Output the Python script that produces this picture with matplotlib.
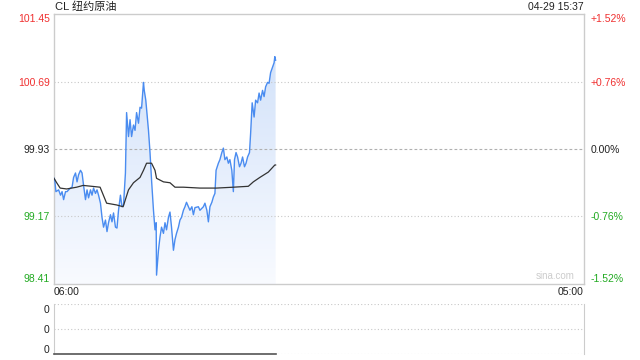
import matplotlib
matplotlib.use("Agg")
import matplotlib.pyplot as plt
import numpy as np
from matplotlib.colors import LinearSegmentedColormap

plt.rcParams['font.family'] = ['Liberation Sans', 'Noto Sans CJK SC', 'DejaVu Sans']

title = "CL 纽约原油"
timestamp = "04-29 15:37"
x_labels = ["06:00", "05:00"]
total_minutes = 1380  # 06:00 -> 05:00 next day

price_min = [0, 2, 5, 12, 17, 21, 25, 30, 34, 38, 43, 47, 51, 56, 60, 64, 69, 73, 77, 82, 86, 90,
             95, 99, 103, 108, 112, 116, 121, 125, 129, 134, 138, 142, 147, 151, 155, 160, 164,
             168, 173, 177, 181, 186,
             189, 194, 198, 202, 207, 211, 215, 220, 224, 228, 233, 235, 239, 242, 246, 250, 254,
             259, 263, 266, 267, 272, 276, 280, 285, 289, 293, 298, 302, 306, 311, 315, 319, 324,
             328, 332, 337, 341, 345, 350, 354, 359, 363, 367, 376,
             380, 389, 393, 398, 402, 406, 411, 415, 419, 422, 428, 432, 437, 441, 445, 450, 454,
             458, 463, 467, 470, 474, 478, 483, 487, 491, 496, 500, 504, 509, 512, 516, 521, 525,
             530, 534, 538, 543, 547, 551, 556, 560, 564, 569, 573, 575, 577]
price_val = [99.60, 99.58, 99.45, 99.47, 99.41, 99.45, 99.36, 99.45, 99.45, 99.47, 99.49, 99.50,
             99.61, 99.66, 99.56, 99.64, 99.69, 99.66, 99.52, 99.36, 99.47, 99.38, 99.47, 99.41,
             99.49, 99.43, 99.47, 99.41, 99.32, 99.16, 99.05, 99.13, 99.00, 99.10, 99.19, 99.11,
             99.21, 99.05, 99.04, 99.24, 99.41, 99.28, 99.30, 99.66,
             100.34, 100.07, 100.26, 100.07, 100.20, 100.14, 100.34, 100.22, 100.40, 100.39,
             100.68, 100.59, 100.48, 100.34, 100.14, 99.89, 99.58, 99.24, 99.02, 99.10, 98.51,
             98.79, 98.94, 99.05, 98.98, 99.10, 99.02, 99.16, 99.22, 99.05, 98.79, 98.91, 98.98,
             99.05, 99.13, 99.16, 99.24, 99.28, 99.33, 99.28, 99.24, 99.28, 99.19, 99.27, 99.28,
             99.24, 99.28, 99.32, 99.24, 99.11, 99.28, 99.33, 99.39, 99.43, 99.69, 99.77, 99.81,
             99.89, 99.94, 99.81, 99.84, 99.77, 99.81, 99.69, 99.45, 99.81, 99.89, 99.84, 99.73,
             99.77, 99.84, 99.73, 99.77, 99.84, 99.89, 100.11, 100.45, 100.29, 100.48, 100.45,
             100.56, 100.48, 100.59, 100.52, 100.63, 100.68, 100.67, 100.79, 100.85, 100.90,
             100.97, 100.93]

avg_min = [0, 7, 16, 33, 59, 76, 120, 137, 163, 180, 194, 207, 224, 233, 241, 254, 263, 267,
           285, 302, 315, 337, 380, 423, 467, 506, 519, 536, 558, 575, 577]
avg_val = [99.60, 99.55, 99.49, 99.48, 99.50, 99.52, 99.50, 99.32, 99.30, 99.28, 99.47, 99.55,
           99.61, 99.69, 99.77, 99.77, 99.69, 99.60, 99.56, 99.55, 99.50, 99.50, 99.49, 99.49,
           99.50, 99.51, 99.56, 99.61, 99.67, 99.75, 99.75]

y_ticks = [98.41, 99.17, 99.93, 100.69, 101.45]
y_tick_labels = ["98.41", "99.17", "99.93", "100.69", "101.45"]
pct_labels = ["-1.52%", "-0.76%", "0.00%", "+0.76%", "+1.52%"]
vol_min = price_min
vol_val = [0] * len(price_min)
vol_tick_labels = ["0", "0", "0"]

RED = "#f03030"
GREEN = "#22aa22"
BLACK = "#222222"
tick_colors = [GREEN, GREEN, BLACK, RED, RED]
border = "#cccccc"

fig = plt.figure(figsize=(6.4, 3.6), dpi=100)
L, R = 54 / 640, 584 / 640
ax = fig.add_axes([L, 1 - 284 / 360, R - L, (284 - 14) / 360])
ax2 = fig.add_axes([L, 1 - 354 / 360, R - L, (354 - 304) / 360])

ax.set_xlim(0, total_minutes)
ax.set_ylim(y_ticks[0], y_ticks[-1])

# gradient fill under price
x = np.array(price_min, dtype=float)
y = np.array(price_val)
cmap = LinearSegmentedColormap.from_list("g", [(0.975, 0.983, 1.0), (0.80, 0.87, 0.975)])
grad = np.linspace(0, 1, 256).reshape(-1, 1)
im = ax.imshow(grad, aspect="auto", cmap=cmap, origin="lower",
               extent=[0, total_minutes, y_ticks[0], y_ticks[-1]], zorder=1)
poly = ax.fill_between(x, y, y_ticks[0], facecolor="none", edgecolor="none")
clip = poly.get_paths()[0]
im.set_clip_path(clip, transform=ax.transData)

# gridlines
for v in [y_ticks[1], y_ticks[3]]:
    ax.axhline(v, color="#c8c8c8", lw=0.8, ls=(0, (1, 2)), zorder=2)
ax.axhline(y_ticks[2], color="#b0b0b0", lw=0.8, ls=(0, (2.5, 2)), zorder=2)

ax.plot(x, y, color="#4a8cf0", lw=1.0, zorder=4)
ax.plot(avg_min, avg_val, color="#333333", lw=0.9, zorder=5)

for s in ax.spines.values():
    s.set_color(border)
    s.set_linewidth(1)
ax.set_xticks([])
ax.set_yticks(y_ticks)
ax.set_yticklabels(y_tick_labels, fontsize=7.5)
ax.tick_params(axis="y", length=0, pad=3)
for lbl, c in zip(ax.get_yticklabels(), tick_colors):
    lbl.set_color(c)
ax.get_yticklabels()[0].set_va("bottom")
ax.get_yticklabels()[-1].set_va("top")

axr = ax.twinx()
axr.set_ylim(ax.get_ylim())
axr.set_yticks(y_ticks)
axr.set_yticklabels(pct_labels, fontsize=7.5)
axr.tick_params(axis="y", length=0, pad=4.5)
for lbl, c in zip(axr.get_yticklabels(), tick_colors):
    lbl.set_color(c)
axr.get_yticklabels()[0].set_va("bottom")
axr.get_yticklabels()[-1].set_va("top")
for s in axr.spines.values():
    s.set_visible(False)

fig.text(55 / 640, 1 - 7 / 360, title, fontsize=8, color=BLACK, va="center", ha="left")
fig.text(R, 1 - 7 / 360, timestamp, fontsize=7.5, color=BLACK, va="center", ha="right")
fig.text(L, 1 - 292 / 360, x_labels[0], fontsize=7.5, color=BLACK, va="center", ha="left")
fig.text(R, 1 - 292 / 360, x_labels[1], fontsize=7.5, color=BLACK, va="center", ha="right")
ax.text(0.982, 0.012, "sina.com", transform=ax.transAxes, fontsize=7, color="#cccccc",
        ha="right", va="bottom", zorder=6)

# volume panel
ax2.set_xlim(0, total_minutes)
ax2.set_ylim(0, 1)
ax2.axhline(0.5, color="#c8c8c8", lw=0.8, ls=(0, (1, 2)))
ax2.axhline(1.0, color="#c8c8c8", lw=0.8, ls=(0, (1, 2)))
ax2.axhline(0.0, color="#c8c8c8", lw=0.8, ls=(0, (1, 2)))
ax2.plot(vol_min, vol_val, color="#555555", lw=1.2, clip_on=False, zorder=5)
for k in ["top", "bottom"]:
    ax2.spines[k].set_visible(False)
for k in ["left", "right"]:
    ax2.spines[k].set_color(border)
ax2.set_xticks([])
ax2.set_yticks([0.1, 0.5, 0.9])
ax2.set_yticklabels(vol_tick_labels, fontsize=7.5, color=BLACK)
ax2.tick_params(axis="y", length=0, pad=3)

fig.savefig("out.png", dpi=100)
